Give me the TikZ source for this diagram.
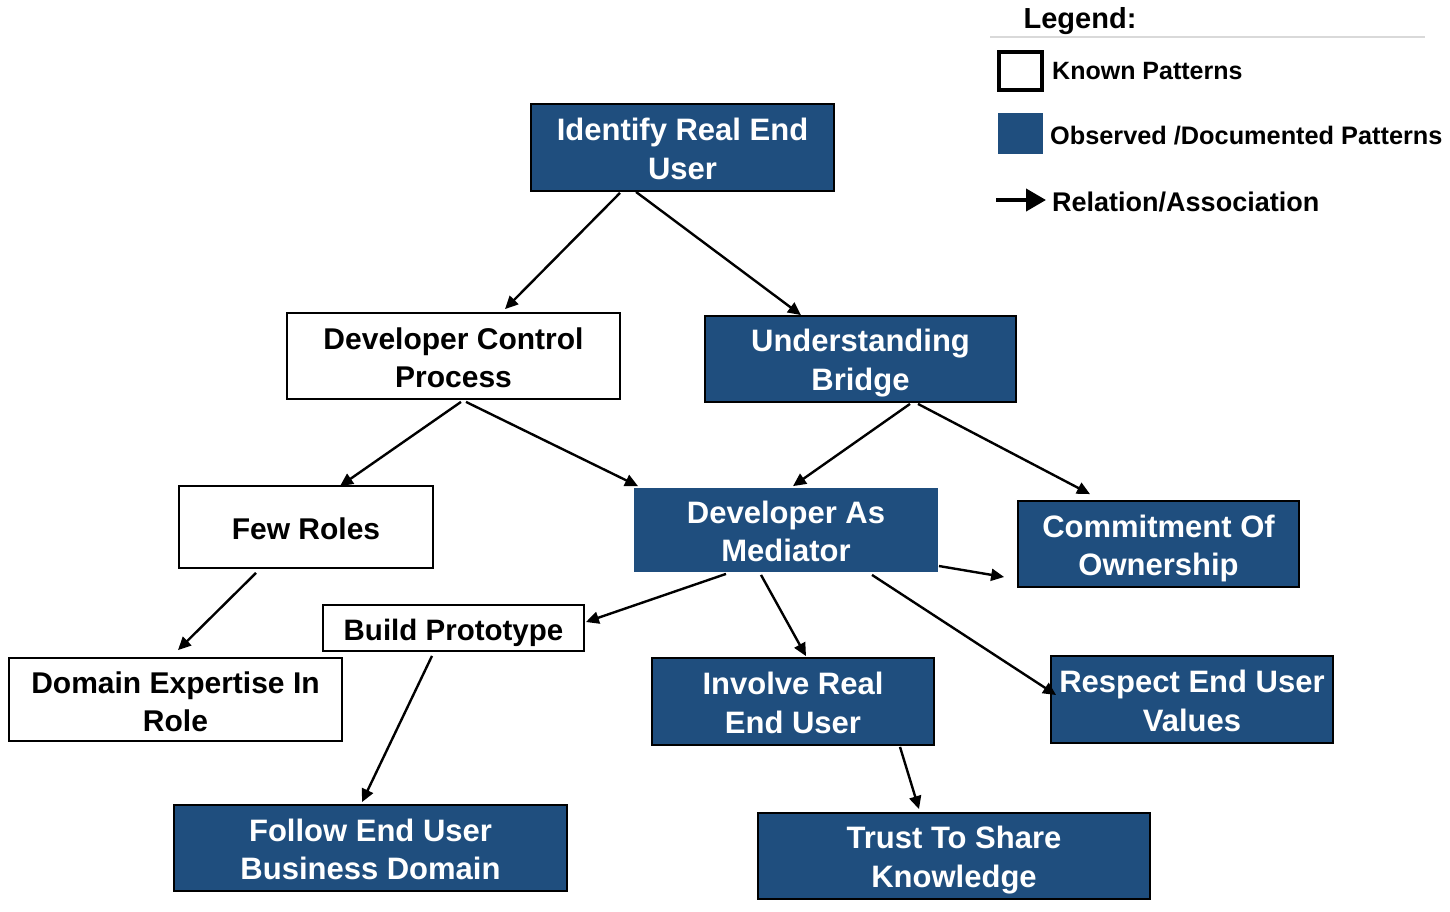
\documentclass[tikz,border=0pt]{standalone}
\usepackage{fontspec}
\setmainfont{Liberation Sans}
\usetikzlibrary{calc,arrows.meta}
\definecolor{pblue}{RGB}{31,78,126}
\newcommand\bst{\rule[-6pt]{0pt}{37pt}}
\begin{document}
\begin{tikzpicture}[x=1pt,y=-1pt,
  box/.style={rectangle,inner sep=0pt,align=center,font=\bfseries\fontsize{30}{38}\selectfont},
  known/.style={box,draw=black,line width=1.8pt,fill=white,text=black},
  observed/.style={box,draw=black,line width=1.8pt,fill=pblue,text=white,font=\bfseries\fontsize{31}{38.5}\selectfont},
  arr/.style={line width=2.4pt,-{Triangle[length=13pt,width=12pt]}},
  legtext/.style={anchor=west,inner sep=0pt,font=\bfseries\fontsize{25}{30}\selectfont}]
\useasboundingbox (0,0) rectangle (1450,911);

% Legend
\node[inner sep=0pt,font=\bfseries\fontsize{29}{32}\selectfont] (legt) at (1080,21) {Legend:};
\coordinate (lg1) at (990,37);
\coordinate (lg2) at (1425,37);
\draw[black!15,line width=2pt] (lg1) -- (lg2);
\node[draw=black,line width=4pt,minimum width=43,minimum height=38,inner sep=0pt] (lk) at (1020.5,71) {};
\node[legtext] (lkt) at (1052,71) {Known Patterns};
\node[fill=pblue,minimum width=45,minimum height=41,inner sep=0pt] (lo) at (1020.5,133.5) {};
\node[legtext,font=\bfseries\fontsize{25.3}{30}\selectfont] (lot) at (1050,136) {Observed /Documented Patterns};
\coordinate (la1) at (996,200);
\coordinate (la2) at (1046,200);
\draw[line width=4pt,-{Triangle[length=20pt,width=22pt]}] (la1) -- (la2);
\node[legtext,font=\bfseries\fontsize{27}{30}\selectfont] (lat) at (1052,202) {Relation/Association};

% Nodes
\node[observed,minimum width=303,minimum height=87] (iru) at (682.5,147.5) {\bst Identify Real End\\User\bst};
\node[known,minimum width=333,minimum height=86] (dcp) at (453.5,356) {\bst Developer Control\\Process\bst};
\node[observed,minimum width=311,minimum height=86] (ub) at (860.5,359) {\bst Understanding\\Bridge\bst};
\node[known,minimum width=254,minimum height=82] (fr) at (306,527) {\bst Few Roles};
\node[observed,draw=none,minimum width=304,minimum height=84] (dam) at (786,530) {\bst Developer As\\Mediator\bst};
\node[observed,minimum width=281,minimum height=86] (coo) at (1158.5,544) {\bst Commitment Of\\Ownership\bst};
\node[known,minimum width=261,minimum height=46,font=\bfseries\fontsize{29.5}{36}\selectfont] (bp) at (453.5,628) {\bst Build Prototype};
\node[known,minimum width=333,minimum height=83] (deir) at (175.5,699.5) {\bst Domain Expertise In\\Role\bst};
\node[observed,minimum width=282,minimum height=87] (ireu) at (793,701.5) {\bst Involve Real\\End User\bst};
\node[observed,minimum width=282,minimum height=87] (reuv) at (1192,699.5) {\bst Respect End User\\Values\bst};
\node[observed,minimum width=393,minimum height=86] (feubd) at (370.5,848) {\bst Follow End User\\Business Domain\bst};
\node[observed,minimum width=392,minimum height=86] (tsk) at (954,856) {\bst Trust To Share\\Knowledge\bst};

% Connectors
\draw[arr] ($(iru.south)+(-62.5,1)$) -- ($(dcp.north)+(51.5,-3)$);
\draw[arr] ($(iru.south)+(-46.5,0)$) -- ($(ub.north)+(-59.5,0)$);
\draw[arr] ($(dcp.south)+(7.5,2)$) -- ($(fr.north)+(34,1)$);
\draw[arr] ($(dcp.south)+(12.5,2)$) -- ($(dam.north)+(-148,-1)$);
\draw[arr] ($(ub.south)+(49.5,1)$) -- ($(dam.north)+(7,-1)$);
\draw[arr] ($(ub.south)+(57.5,1)$) -- ($(coo.north)+(-68.5,-6)$);
\draw[arr] ($(fr.south)+(-50,4)$) -- ($(deir.north)+(2.5,-7)$);
\draw[arr] ($(dam.south)+(-60,1)$) -- ($(bp.east)+(1,-6)$);
\draw[arr] ($(dam.south)+(-25,2)$) -- ($(ireu.north)+(13,-1)$);
\draw[arr] ($(dam.east)+(0,36)$) -- ($(coo.west)+(-13,33)$);
\draw[arr] ($(dam.south)+(86,2)$) -- ($(reuv.west)+(6,-4.5)$);
\draw[arr] ($(bp.south)+(-21.5,4)$) -- ($(feubd.north)+(-8.5,-2)$);
\draw[arr] ($(ireu.south)+(107,1)$) -- ($(tsk.north)+(-35,-3)$);
\end{tikzpicture}
\end{document}
